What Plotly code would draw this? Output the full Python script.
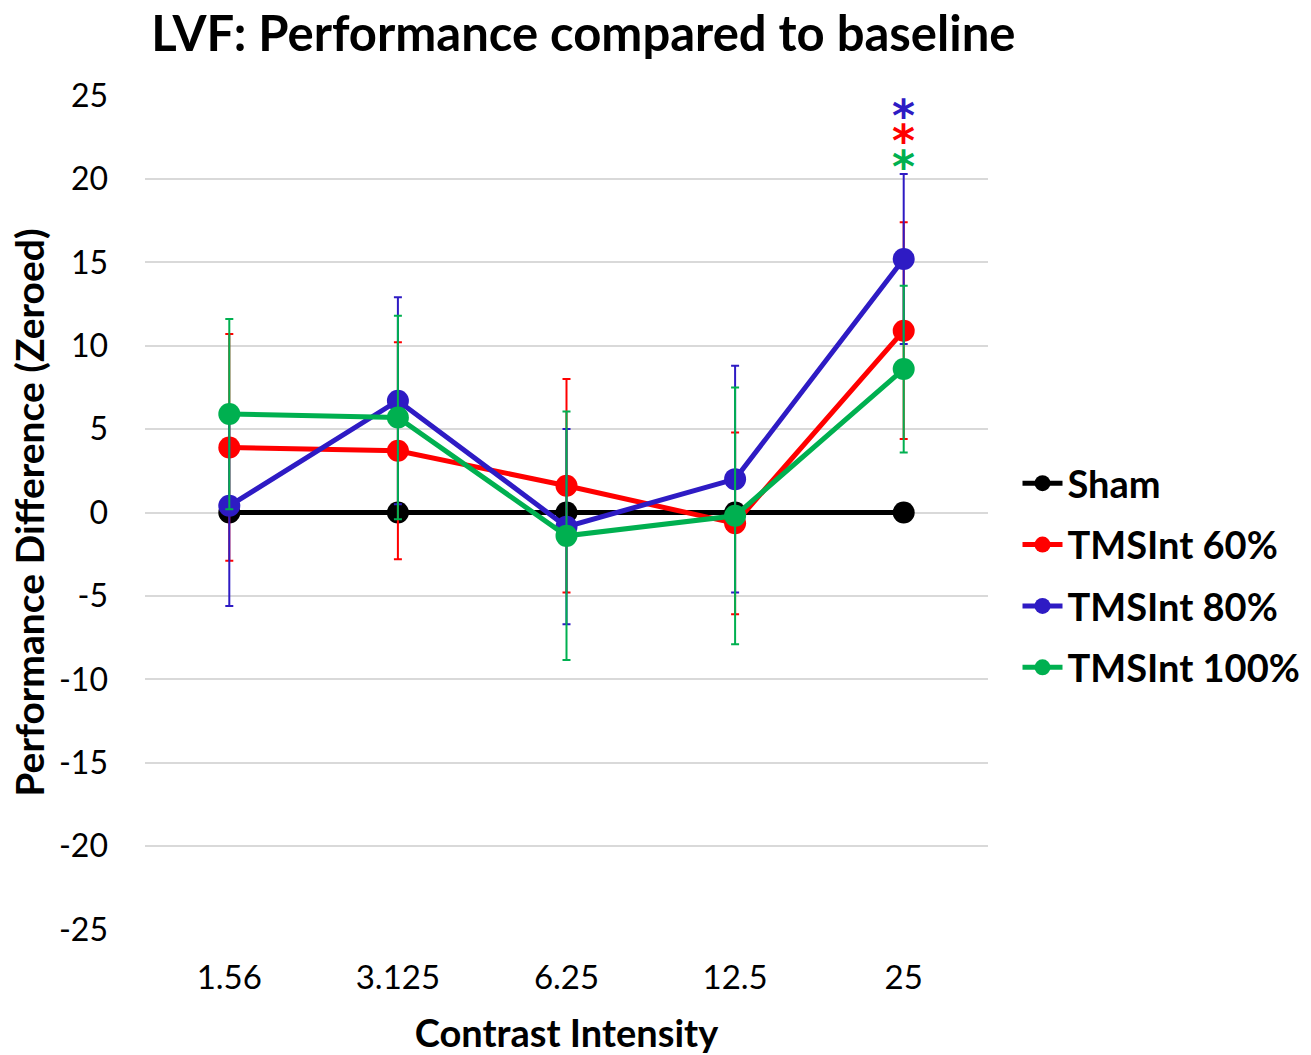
import plotly.graph_objects as go

# Contrast levels (categorical x axis)
contrast = ["1.56", "3.125", "6.25", "12.5", "25"]

# Mean performance difference relative to baseline (zeroed to Sham)
sham = [0, 0, 0, 0, 0]
tms60 = [3.9, 3.7, 1.6, -0.65, 10.9]
tms80 = [0.4, 6.7, -0.85, 2.0, 15.2]
tms100 = [5.9, 5.7, -1.4, -0.2, 8.6]

# Symmetric error bar half-widths
err60 = [6.8, 6.5, 6.4, 5.45, 6.5]
err80 = [6.0, 6.2, 5.85, 6.8, 5.1]
err100 = [5.7, 6.1, 7.45, 7.7, 5.0]

# Y tick values and labels (plain hyphen for negatives)
y_ticks = [25, 20, 15, 10, 5, 0, -5, -10, -15, -20, -25]
y_ticklabels = ["25", "20", "15", "10", "5", "0", "-5", "-10", "-15", "-20", "-25"]

FONT = "Lato"
C_SHAM = "#000000"
C_60 = "#FF0000"
C_80 = "#2E1BC4"
C_100 = "#00B050"

fig = go.Figure()

series = [
    ("Sham", sham, None, C_SHAM),
    ("TMSInt 60%", tms60, err60, C_60),
    ("TMSInt 80%", tms80, err80, C_80),
    ("TMSInt 100%", tms100, err100, C_100),
]

for i, (name, vals, err, color) in enumerate(series):
    kw = {}
    if err is not None:
        kw["error_y"] = dict(type="data", array=err, symmetric=True,
                             color=color, thickness=2, width=4)
    fig.add_trace(go.Scatter(
        x=contrast, y=vals, name=f"<b>{name}</b>", mode="lines+markers",
        line=dict(color=color, width=5),
        marker=dict(color=color, size=22),
        legendgroup=f"g{i}",
        **kw,
    ))

# Stacked significance asterisks above the 25% contrast point
# (80%, 60%, 100% from top to bottom), drawn as one text block so the
# line spacing follows the small base font while the glyphs stay large.
star_lines = "<br>".join(
    f'<span style="color:{c};font-size:44px"><b>*</b></span>'
    for c in [C_80, C_60, C_100]
)
fig.add_annotation(x=contrast.index("25"), y=22.75, xref="x", yref="y",
                   text=star_lines, showarrow=False,
                   font=dict(family="DejaVu Sans", size=19.5),
                   xanchor="center", yanchor="middle", yshift=-8)

fig.update_layout(
    width=1311, height=1055,
    margin=dict(l=145, r=323, t=95, b=125, autoexpand=False),
    paper_bgcolor="white", plot_bgcolor="white",
    font=dict(family=FONT, color="#000000"),
    title=dict(text="<b>LVF: Performance compared to baseline</b>",
               font=dict(family=FONT, size=49, color="#000000"),
               x=0.445, xanchor="center", y=0.968, yanchor="middle"),
    showlegend=True,
    legend=dict(x=1.035, xanchor="left", y=0.4246, yanchor="middle",
                font=dict(family=FONT, size=38, color="#000000"),
                tracegroupgap=9, itemwidth=40,
                bgcolor="rgba(0,0,0,0)"),
)

fig.update_xaxes(
    type="category", range=[-0.5, 4.5],
    showgrid=False, showline=False, zeroline=False,
    tickfont=dict(family=FONT, size=33),
    ticks="", ticklabelstandoff=25,
    title=dict(text="<b>Contrast Intensity</b>",
               font=dict(family=FONT, size=38), standoff=26),
)

fig.update_yaxes(
    range=[-25.03, 25.03],
    tickmode="array", tickvals=y_ticks, ticktext=y_ticklabels,
    showgrid=True, gridcolor="#D9D9D9", gridwidth=1.5,
    zeroline=False,
    showline=False,
    tickfont=dict(family=FONT, size=32),
    ticks="", ticklabelstandoff=36,
    title=dict(text="<b>Performance Difference (Zeroed)</b>",
               font=dict(family=FONT, size=39), standoff=2),
)

fig.write_html("out.html")
